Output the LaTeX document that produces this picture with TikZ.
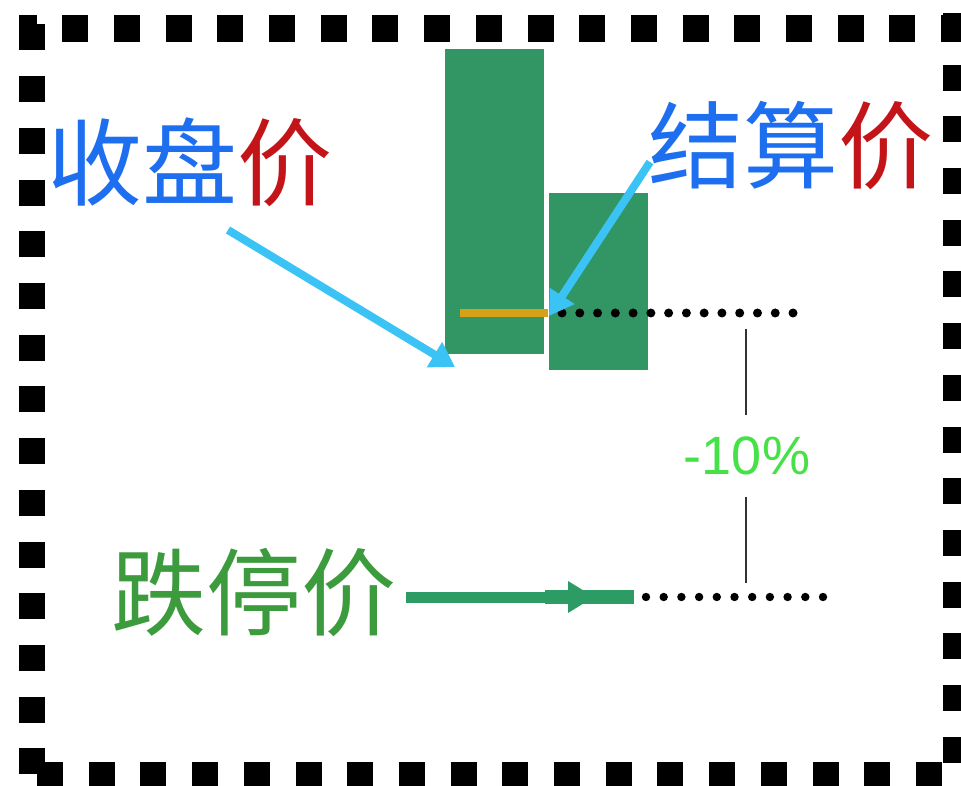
\documentclass[tikz,border=0pt]{standalone}
\usepackage{fontspec}
\newfontfamily\cjk{Noto Sans CJK SC}
\newfontfamily\arialf{Liberation Sans}
\usetikzlibrary{arrows.meta}
\definecolor{blueT}{RGB}{30,110,240}
\definecolor{redT}{RGB}{195,20,25}
\definecolor{greenT}{RGB}{60,155,60}
\definecolor{pctG}{RGB}{70,225,70}
\definecolor{cyanA}{RGB}{60,195,245}
\definecolor{candleG}{RGB}{50,150,100}
\definecolor{arrowG}{RGB}{45,155,100}
\definecolor{orangeL}{RGB}{215,160,25}
\definecolor{vline}{RGB}{50,50,50}
\tikzset{
  candle/.style={fill=candleG, draw=none, inner sep=0pt, minimum width=99pt},
  border/.style={line width=26.5pt, dash pattern=on 26pt off 25.7pt},
  bigtext/.style={font=\cjk\fontsize{95}{95}\selectfont, inner sep=0pt, anchor=base},
  pointer/.style={cyanA, line width=8pt, -{Triangle[length=24pt,width=28pt]}},
  dotb/.style={fill=black},
}
\begin{document}
\begin{tikzpicture}[x=1pt,y=-1pt]
\useasboundingbox (0,0) rectangle (961,786);
\fill[white] (0,0) rectangle (961,786);
\begin{scope}
\clip (0,0) rectangle (961,786);
% dashed frame
\draw[border, dash phase=8.5pt] (19,28.5) -- (975,28.5);
\draw[border] (32,24.5) -- (32,795);
\draw[border] (37,775) -- (975,775);
\draw[border] (956,13) -- (956,795);
\end{scope}
% candles
\node[candle, minimum height=305pt] (c1) at (494.5,201.5) {};
\node[candle, minimum height=177pt] (c2) at (598.5,281.5) {};
% settlement line
\coordinate (o1) at (460,313);
\coordinate (o2) at (548,313);
\draw[orangeL, line width=8pt] (o1) -- (o2);
% dotted lines
\foreach \i in {0,...,13} \fill[dotb] (562+17.77*\i,313) circle (4.5pt);
\foreach \i in {0,...,10} \fill[dotb] (646+17.7*\i,597) circle (4.2pt);
% labels
\node[bigtext] (close) at (190,199) {\textcolor{blueT}{收盘}\textcolor{redT}{价}};
\node[bigtext] (settle) at (791,182) {\textcolor{blueT}{结算}\textcolor{redT}{价}};
\node[bigtext, text=greenT] (limit) at (254,628) {跌停价};
\node[font=\arialf\fontsize{54}{54}\selectfont, text=pctG, inner sep=0pt, anchor=base] (pct) at (747,474) {-10\%};
% vertical measure line
\coordinate (v1) at (746,329);
\coordinate (v1b) at (746,415);
\coordinate (v2b) at (746,497);
\coordinate (v2) at (746,583);
\draw[vline, line width=2pt] (v1) -- (v1b);
\draw[vline, line width=2pt] (v2b) -- (v2);
% pointers
\coordinate (a1s) at (228,230);
\coordinate (a1e) at (455,367);
\coordinate (a2s) at (650,162);
\coordinate (a2e) at (549,316);
\draw[pointer] (a1s) -- (a1e);
\draw[pointer] (a2s) -- (a2e);
% green arrow
\coordinate (g1) at (406,597);
\coordinate (gm) at (545,597);
\coordinate (g2) at (634,597);
\draw[arrowG, line width=11pt] (g1) -- (gm);
\draw[arrowG, line width=14pt] (gm) -- (g2);
\fill[arrowG] (568,581) -- (568,613) -- (594,597) -- cycle;
\end{tikzpicture}
\end{document}
